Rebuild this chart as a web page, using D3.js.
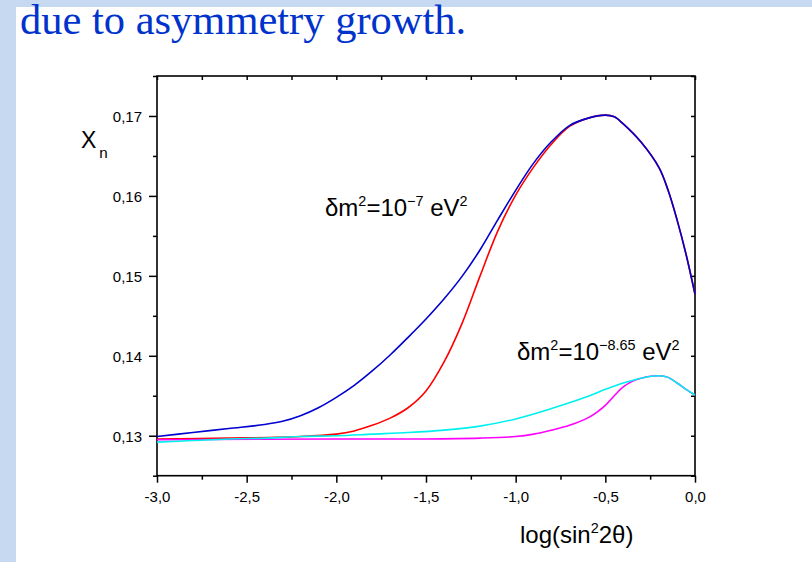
<!DOCTYPE html>
<html><head><meta charset="utf-8">
<script src="https://cdn.jsdelivr.net/npm/d3@7"></script>
<style>body{margin:0;background:#fff;} svg{display:block}</style>
</head><body><svg id="c" width="812" height="562"></svg>
<script>
// ---- data ----
const xTicks = [-3.0, -2.5, -2.0, -1.5, -1.0, -0.5, 0.0];
const xTickLabels = ["-3,0", "-2,5", "-2,0", "-1,5", "-1,0", "-0,5", "0,0"];
const yTicks = [0.13, 0.14, 0.15, 0.16, 0.17];
const yTickLabels = ["0,13", "0,14", "0,15", "0,16", "0,17"];

const blueX = [-3.0,-2.8,-2.6,-2.4,-2.3,-2.2,-2.1,-2.0,-1.9,-1.8,-1.7,-1.6,-1.5,-1.4,-1.3,-1.2,-1.1,-1.0,-0.9,-0.8,-0.7,-0.6,-0.5,-0.45,-0.4,-0.3,-0.2,-0.15,-0.1,-0.05,0.0];
const blueY = [0.1299,0.1304,0.1309,0.1314,0.1318,0.1325,0.1335,0.1348,0.1363,0.1381,0.1401,0.1423,0.1446,0.1471,0.1499,0.1532,0.1570,0.1607,0.1641,0.1668,0.1688,0.1697,0.1701,0.1699,0.1690,0.1667,0.1635,0.1607,0.1570,0.1527,0.1477];

const redX = [-3.0,-2.6,-2.2,-2.0,-1.9,-1.8,-1.7,-1.6,-1.5,-1.4,-1.3,-1.2,-1.1,-1.0,-0.9,-0.8,-0.7,-0.6,-0.5,-0.45,-0.4,-0.3,-0.2,-0.15,-0.1,-0.05,0.0];
const redY = [0.1296,0.1297,0.1299,0.1302,0.1306,0.1313,0.1322,0.1335,0.1356,0.1392,0.1440,0.1499,0.1556,0.1601,0.1636,0.1665,0.1687,0.1697,0.1701,0.1699,0.1690,0.1667,0.1635,0.1607,0.1570,0.1527,0.1477];

const cyanX = [-3.0,-2.8,-2.6,-2.4,-2.2,-2.0,-1.8,-1.6,-1.4,-1.2,-1.0,-0.8,-0.6,-0.5,-0.4,-0.3,-0.2,-0.15,-0.1,-0.05,0.0];
const cyanY = [0.1292,0.1294,0.1296,0.1297,0.1299,0.1300,0.1302,0.1304,0.1307,0.1312,0.1321,0.1334,0.1349,0.1358,0.1366,0.1372,0.1375,0.1373,0.1366,0.1358,0.1351];

const magX = [-3.0,-2.0,-1.5,-1.2,-1.0,-0.9,-0.8,-0.7,-0.6,-0.55,-0.5,-0.45,-0.4,-0.35,-0.3,-0.2,-0.15,-0.1,-0.05,0.0];
const magY = [0.1295,0.1296,0.1296,0.1297,0.1299,0.1302,0.1307,0.1313,0.1322,0.1329,0.1338,0.1350,0.1361,0.1368,0.1372,0.1375,0.1373,0.1366,0.1358,0.1351];

// ---- drawing ----
const svg = d3.select("#c");
svg.append("rect").attr("width", 812).attr("height", 562).attr("fill", "#c6d9f1");
svg.append("rect").attr("x", 16).attr("y", 7).attr("width", 796).attr("height", 555).attr("fill", "#fff");

svg.append("text").attr("x", 20).attr("y", 34)
  .attr("font-family", "Liberation Serif, Times New Roman, serif")
  .attr("font-size", 42.5).attr("fill", "#0033cc")
  .text("due to asymmetry growth.");

const L = 157, R = 695, T = 76, B = 475.7;
const x = d3.scaleLinear().domain([-3, 0]).range([L, R]);
const y = d3.scaleLinear().domain([0.125, 0.175]).range([B, T]);

const font = "Liberation Sans, Arial, sans-serif";
const g = svg.append("g");

// axes
const xMinor = d3.range(-3, 0.001, 0.25);
const yMinor = d3.range(0.125, 0.1751, 0.005);

const axBottom = g.append("g").attr("transform", `translate(0,${B})`)
  .call(d3.axisBottom(x).tickValues(xTicks).tickSize(7).tickFormat((d, i) => xTickLabels[i]));
const axBottomMinor = g.append("g").attr("transform", `translate(0,${B})`)
  .call(d3.axisBottom(x).tickValues(xMinor.filter(v => Math.abs((v*2) - Math.round(v*2)) > 0.01)).tickSize(4).tickFormat(""));
const axLeft = g.append("g").attr("transform", `translate(${L},0)`)
  .call(d3.axisLeft(y).tickValues(yTicks).tickSize(8).tickFormat((d, i) => yTickLabels[i]));
const axLeftMinor = g.append("g").attr("transform", `translate(${L},0)`)
  .call(d3.axisLeft(y).tickValues(yMinor.filter(v => Math.abs(v*100 - Math.round(v*100)) > 0.01)).tickSize(4).tickFormat(""));
const axTop = g.append("g").attr("transform", `translate(0,${T})`)
  .call(d3.axisTop(x).tickValues(xMinor).tickSize(-4).tickFormat(""));
const axRight = g.append("g").attr("transform", `translate(${R},0)`)
  .call(d3.axisRight(y).tickValues(yMinor).tickSize(-4).tickFormat(""));

[axBottom, axBottomMinor, axLeft, axLeftMinor, axTop, axRight].forEach(a => {
  a.select(".domain").remove();
  a.selectAll("line").attr("stroke", "#000").attr("stroke-width", 1.5);
  a.selectAll("text").attr("font-family", font).attr("font-size", 15).attr("fill", "#000");
});
axBottom.selectAll("text").attr("dy", "0").attr("y", 26);
axLeft.selectAll("text").attr("x", -15).attr("dy", "0.36em");

g.append("rect").attr("x", L).attr("y", T).attr("width", R - L).attr("height", B - T)
  .attr("fill", "none").attr("stroke", "#000").attr("stroke-width", 1.6);

// lines
const line = d3.line().x(d => x(d[0])).y(d => y(d[1])).curve(d3.curveCatmullRom.alpha(0.5));
const series = [
  [redX, redY, "#ff0000"],
  [blueX, blueY, "#0000d0"],
  [magX, magY, "#ff00ff"],
  [cyanX, cyanY, "#00f0f0"]
];
series.forEach(([xs, ys, c]) => {
  g.append("path").datum(xs.map((v, i) => [v, ys[i]]))
    .attr("d", line).attr("fill", "none").attr("stroke", c).attr("stroke-width", 1.6);
});

// rich text helper
function rich(xp, yp, parts, size, supRatio) {
  const t = svg.append("text").attr("x", xp).attr("y", yp)
    .attr("font-family", font).attr("font-size", size).attr("fill", "#000");
  let shift = 0;
  parts.forEach(p => {
    const target = p.sup ? -size * 0.42 : (p.sub ? size * 0.45 : 0);
    const ts = t.append("tspan").attr("dy", target - shift)
      .attr("font-size", (p.sup || p.sub) ? size * supRatio : size)
      .text(p.t);
    if (p.dx) ts.attr("dx", p.dx);
    shift = target;
  });
  return t;
}

rich(325, 216, [{t:"δm"},{t:"2",sup:1},{t:"=10"},{t:"−7",sup:1},{t:" eV"},{t:"2",sup:1}], 24, 0.6);
rich(517, 360, [{t:"δm"},{t:"2",sup:1},{t:"=10"},{t:"−8.65",sup:1},{t:" eV"},{t:"2",sup:1}], 24, 0.6);
rich(520, 543, [{t:"log(sin"},{t:"2",sup:1},{t:"2θ)"}], 24, 0.6);
rich(81, 148, [{t:"X"},{t:"n",sub:1,dx:3}], 23, 0.66);
</script></body></html>
